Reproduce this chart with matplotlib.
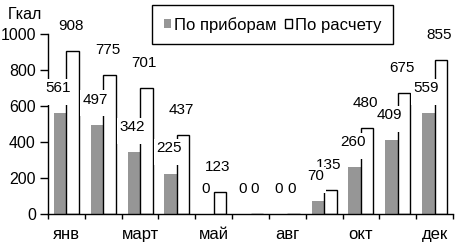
import matplotlib
matplotlib.use('Agg')
import matplotlib.pyplot as plt
import numpy as np

# ── данные ──
months = ['янв', 'фев', 'март', 'апр', 'май', 'июн', 'авг', 'сен', 'окт', 'ноя', 'дек']
meter = [561, 497, 342, 225, 0, 0, 0, 70, 260, 409, 559]      # По приборам
calc = [908, 775, 701, 437, 123, 0, 0, 135, 480, 675, 855]    # По расчету
yticks = [0, 200, 400, 600, 800, 1000]

plt.rcParams['font.family'] = ['Liberation Sans', 'DejaVu Sans']

fig = plt.figure(figsize=(4.66, 2.5), dpi=100)
ax = fig.add_axes([48/466, 36/250, 405/466, 180/250])

x = np.arange(len(months))
w = 0.34
bars1 = ax.bar(x - w/2, meter, w, color='#969696', linewidth=0, label='По приборам')
bars2 = ax.bar(x + w/2, calc, w, facecolor='white', edgecolor='black',
               linewidth=1, label='По расчету')

# подписи значений; у серых подписей белый фон вытянут вниз пустой строкой,
# он перекрывает левый контур соседнего белого столбца
for bars, tail, z in ((bars1, '\n', 6), (bars2, '', 5)):
    for bar in bars:
        h = bar.get_height()
        ax.annotate(f'{h:.0f}{tail}', xy=(bar.get_x() + bar.get_width()/2, h),
                    xytext=(-2, 32), textcoords='offset pixels',
                    ha='center', va='top', fontsize=11, linespacing=0.4,
                    zorder=z,
                    bbox=dict(facecolor='white', edgecolor='none', pad=1.5))

ax.set_xlim(-0.5, len(months) - 0.5)
ax.set_ylim(0, 1000)
ax.set_yticks(yticks)
ax.tick_params(axis='y', length=5.8, width=1, pad=3, labelsize=11.5)

ax.set_xticks(x)
ax.set_xticklabels([m if i % 2 == 0 else '' for i, m in enumerate(months)])
ax.set_xticks(np.arange(-0.5, len(months)), minor=True)
ax.tick_params(axis='x', which='major', length=0, pad=9.5, labelsize=12)
ax.tick_params(axis='x', which='minor', length=3.5, width=1)

for s in ('top', 'right'):
    ax.spines[s].set_visible(False)
for s in ('left', 'bottom'):
    ax.spines[s].set_linewidth(1)

fig.text(8/466, 1 - 7/250, 'Гкал', ha='left', va='top', fontsize=11.5)

leg = fig.legend(handles=[bars1, bars2], loc='upper left',
                 bbox_to_anchor=(152/466, 1 - 5/250), ncol=2, fontsize=12,
                 frameon=True, fancybox=False, shadow=False, framealpha=1,
                 edgecolor='black', borderpad=0.7, borderaxespad=0,
                 handlelength=0.42, handleheight=0.42, handletextpad=0.2,
                 columnspacing=0.5)
leg.get_frame().set_linewidth(1)

fig.savefig('out.png', dpi=100)
